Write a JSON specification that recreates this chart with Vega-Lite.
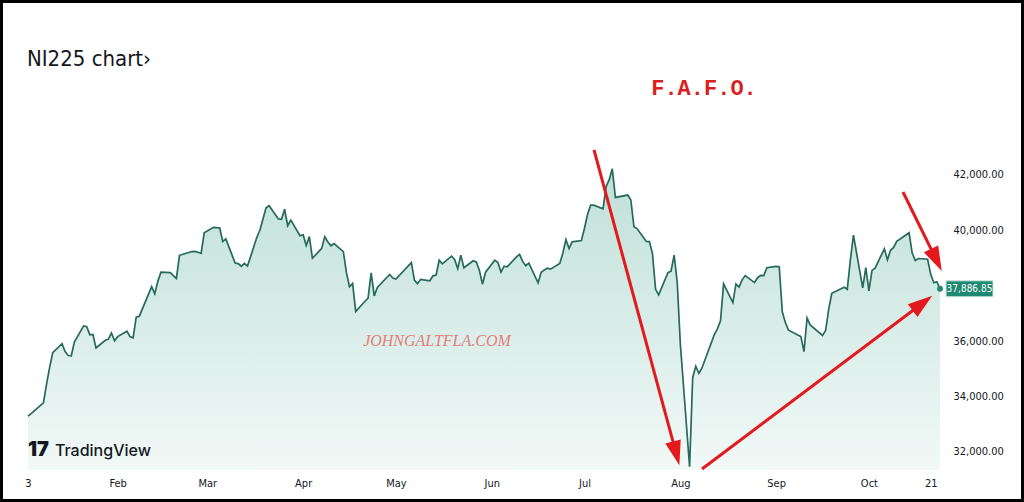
{
  "$schema": "https://vega.github.io/schema/vega-lite/v6.json",
  "width": 1024,
  "height": 502,
  "autosize": "none",
  "padding": 0,
  "background": "white",
  "config": {
    "view": {"stroke": "black", "strokeWidth": 6},
    "axis": {"grid": false, "domain": false, "ticks": false, "title": null, "labelColor": "#131722", "labelFont": "DejaVu Sans Condensed, Roboto", "labelFontSize": 11}
  },
  "datasets": {
    "ni225": [
      {"date": "2024-01-03", "close": 33288}, {"date": "2024-01-04", "close": 33377}, {"date": "2024-01-08", "close": 33763}, {"date": "2024-01-09", "close": 34441}, {"date": "2024-01-10", "close": 35049}, {"date": "2024-01-11", "close": 35577}, {"date": "2024-01-14", "close": 35901}, {"date": "2024-01-15", "close": 35619}, {"date": "2024-01-16", "close": 35477}, {"date": "2024-01-17", "close": 35466}, {"date": "2024-01-18", "close": 35963}, {"date": "2024-01-21", "close": 36546}, {"date": "2024-01-22", "close": 36517}, {"date": "2024-01-23", "close": 36226}, {"date": "2024-01-24", "close": 36236}, {"date": "2024-01-25", "close": 35751}, {"date": "2024-01-28", "close": 36026}, {"date": "2024-01-29", "close": 36066}, {"date": "2024-01-30", "close": 36287}, {"date": "2024-01-31", "close": 36011},
      {"date": "2024-02-01", "close": 36158}, {"date": "2024-02-04", "close": 36354}, {"date": "2024-02-05", "close": 36160}, {"date": "2024-02-06", "close": 36119}, {"date": "2024-02-07", "close": 36863}, {"date": "2024-02-08", "close": 36897}, {"date": "2024-02-12", "close": 37963}, {"date": "2024-02-13", "close": 37703}, {"date": "2024-02-14", "close": 38157}, {"date": "2024-02-15", "close": 38487}, {"date": "2024-02-18", "close": 38470}, {"date": "2024-02-19", "close": 38363}, {"date": "2024-02-20", "close": 38262}, {"date": "2024-02-21", "close": 39098}, {"date": "2024-02-25", "close": 39233}, {"date": "2024-02-26", "close": 39239}, {"date": "2024-02-27", "close": 39208}, {"date": "2024-02-28", "close": 39166}, {"date": "2024-02-29", "close": 39910},
      {"date": "2024-03-03", "close": 40109}, {"date": "2024-03-04", "close": 40097}, {"date": "2024-03-05", "close": 40090}, {"date": "2024-03-06", "close": 39598}, {"date": "2024-03-07", "close": 39688}, {"date": "2024-03-10", "close": 38820}, {"date": "2024-03-11", "close": 38797}, {"date": "2024-03-12", "close": 38695}, {"date": "2024-03-13", "close": 38807}, {"date": "2024-03-14", "close": 38707}, {"date": "2024-03-17", "close": 39740}, {"date": "2024-03-18", "close": 40003}, {"date": "2024-03-20", "close": 40815}, {"date": "2024-03-21", "close": 40888}, {"date": "2024-03-24", "close": 40414}, {"date": "2024-03-25", "close": 40398}, {"date": "2024-03-26", "close": 40762}, {"date": "2024-03-27", "close": 40168}, {"date": "2024-03-28", "close": 40369}, {"date": "2024-03-31", "close": 39803},
      {"date": "2024-04-01", "close": 39838}, {"date": "2024-04-02", "close": 39451}, {"date": "2024-04-03", "close": 39773}, {"date": "2024-04-04", "close": 38992}, {"date": "2024-04-07", "close": 39347}, {"date": "2024-04-08", "close": 39773}, {"date": "2024-04-09", "close": 39581}, {"date": "2024-04-10", "close": 39442}, {"date": "2024-04-11", "close": 39523}, {"date": "2024-04-14", "close": 39232}, {"date": "2024-04-15", "close": 38471}, {"date": "2024-04-16", "close": 37961}, {"date": "2024-04-17", "close": 38079}, {"date": "2024-04-18", "close": 37068}, {"date": "2024-04-21", "close": 37438}, {"date": "2024-04-22", "close": 37552}, {"date": "2024-04-23", "close": 38460}, {"date": "2024-04-24", "close": 37628}, {"date": "2024-04-25", "close": 37934}, {"date": "2024-04-29", "close": 38405}, {"date": "2024-04-30", "close": 38274},
      {"date": "2024-05-01", "close": 38236}, {"date": "2024-05-06", "close": 38835}, {"date": "2024-05-07", "close": 38202}, {"date": "2024-05-08", "close": 38073}, {"date": "2024-05-09", "close": 38229}, {"date": "2024-05-12", "close": 38179}, {"date": "2024-05-13", "close": 38356}, {"date": "2024-05-14", "close": 38385}, {"date": "2024-05-15", "close": 38920}, {"date": "2024-05-16", "close": 38787}, {"date": "2024-05-19", "close": 39069}, {"date": "2024-05-20", "close": 38946}, {"date": "2024-05-21", "close": 38617}, {"date": "2024-05-22", "close": 39103}, {"date": "2024-05-23", "close": 38646}, {"date": "2024-05-26", "close": 38900}, {"date": "2024-05-27", "close": 38855}, {"date": "2024-05-28", "close": 38556}, {"date": "2024-05-29", "close": 38054}, {"date": "2024-05-30", "close": 38487},
      {"date": "2024-06-02", "close": 38923}, {"date": "2024-06-03", "close": 38837}, {"date": "2024-06-04", "close": 38490}, {"date": "2024-06-05", "close": 38703}, {"date": "2024-06-06", "close": 38683}, {"date": "2024-06-09", "close": 39038}, {"date": "2024-06-10", "close": 39134}, {"date": "2024-06-11", "close": 38876}, {"date": "2024-06-12", "close": 38720}, {"date": "2024-06-13", "close": 38814}, {"date": "2024-06-16", "close": 38102}, {"date": "2024-06-17", "close": 38482}, {"date": "2024-06-18", "close": 38570}, {"date": "2024-06-19", "close": 38633}, {"date": "2024-06-20", "close": 38596}, {"date": "2024-06-23", "close": 38804}, {"date": "2024-06-24", "close": 39173}, {"date": "2024-06-25", "close": 39667}, {"date": "2024-06-26", "close": 39341}, {"date": "2024-06-27", "close": 39583}, {"date": "2024-06-30", "close": 39631},
      {"date": "2024-07-01", "close": 40074}, {"date": "2024-07-02", "close": 40580}, {"date": "2024-07-03", "close": 40913}, {"date": "2024-07-04", "close": 40912}, {"date": "2024-07-07", "close": 40780}, {"date": "2024-07-08", "close": 41580}, {"date": "2024-07-09", "close": 41831}, {"date": "2024-07-10", "close": 42224}, {"date": "2024-07-11", "close": 41190}, {"date": "2024-07-15", "close": 41275}, {"date": "2024-07-16", "close": 41097}, {"date": "2024-07-17", "close": 40126}, {"date": "2024-07-18", "close": 40063}, {"date": "2024-07-21", "close": 39599}, {"date": "2024-07-22", "close": 39594}, {"date": "2024-07-23", "close": 39154}, {"date": "2024-07-24", "close": 37869}, {"date": "2024-07-25", "close": 37667}, {"date": "2024-07-28", "close": 38468}, {"date": "2024-07-29", "close": 38525}, {"date": "2024-07-30", "close": 39101}, {"date": "2024-07-31", "close": 38126},
      {"date": "2024-08-01", "close": 35909}, {"date": "2024-08-04", "close": 31458}, {"date": "2024-08-05", "close": 34675}, {"date": "2024-08-06", "close": 35089}, {"date": "2024-08-07", "close": 34831}, {"date": "2024-08-08", "close": 35025}, {"date": "2024-08-12", "close": 36232}, {"date": "2024-08-13", "close": 36442}, {"date": "2024-08-14", "close": 36726}, {"date": "2024-08-15", "close": 38062}, {"date": "2024-08-18", "close": 37388}, {"date": "2024-08-19", "close": 38063}, {"date": "2024-08-20", "close": 37951}, {"date": "2024-08-21", "close": 38211}, {"date": "2024-08-22", "close": 38364}, {"date": "2024-08-25", "close": 38110}, {"date": "2024-08-26", "close": 38288}, {"date": "2024-08-27", "close": 38371}, {"date": "2024-08-28", "close": 38362}, {"date": "2024-08-29", "close": 38647},
      {"date": "2024-09-01", "close": 38700}, {"date": "2024-09-02", "close": 38686}, {"date": "2024-09-03", "close": 37047}, {"date": "2024-09-04", "close": 36657}, {"date": "2024-09-05", "close": 36391}, {"date": "2024-09-08", "close": 36215}, {"date": "2024-09-09", "close": 36159}, {"date": "2024-09-10", "close": 35619}, {"date": "2024-09-11", "close": 36833}, {"date": "2024-09-12", "close": 36581}, {"date": "2024-09-16", "close": 36203}, {"date": "2024-09-17", "close": 36380}, {"date": "2024-09-18", "close": 37155}, {"date": "2024-09-19", "close": 37723}, {"date": "2024-09-23", "close": 37940}, {"date": "2024-09-24", "close": 37870}, {"date": "2024-09-25", "close": 38925}, {"date": "2024-09-26", "close": 39829}, {"date": "2024-09-29", "close": 37919}, {"date": "2024-09-30", "close": 38651},
      {"date": "2024-10-01", "close": 37808}, {"date": "2024-10-02", "close": 38552}, {"date": "2024-10-03", "close": 38635}, {"date": "2024-10-06", "close": 39332}, {"date": "2024-10-07", "close": 38937}, {"date": "2024-10-08", "close": 39277}, {"date": "2024-10-09", "close": 39380}, {"date": "2024-10-10", "close": 39605}, {"date": "2024-10-14", "close": 39910}, {"date": "2024-10-15", "close": 39180}, {"date": "2024-10-16", "close": 38911}, {"date": "2024-10-17", "close": 38981}, {"date": "2024-10-20", "close": 38954}, {"date": "2024-10-21", "close": 38411}, {"date": "2024-10-22", "close": 38104}, {"date": "2024-10-23", "close": 38143}, {"date": "2024-10-24", "close": 37886.85}
    ]
  },
  "layer": [
    {
      "data": {"name": "ni225"},
      "mark": {"type": "area", "color": {"gradient": "linear", "x1": 0, "y1": 0, "x2": 0, "y2": 1, "stops": [{"offset": 0, "color": "#bfe0d8"}, {"offset": 1, "color": "#f2f9f7"}]}},
      "encoding": {
        "x": {"field": "date", "type": "temporal",
          "scale": {"type": "utc", "domain": [{"year": 2023, "month": 12, "date": 24, "hours": 22, "minutes": 38, "utc": true}, {"year": 2024, "month": 11, "date": 20, "hours": 4, "minutes": 5, "utc": true}]},
          "axis": {"orient": "bottom", "offset": -33, "labelPadding": 8, "labelAlign": "center",
            "values": [{"year": 2024, "month": 1, "date": 3, "utc": true}, {"year": 2024, "month": 2, "date": 1, "utc": true}, {"year": 2024, "month": 3, "date": 1, "utc": true}, {"year": 2024, "month": 4, "date": 1, "utc": true}, {"year": 2024, "month": 5, "date": 1, "utc": true}, {"year": 2024, "month": 6, "date": 1, "utc": true}, {"year": 2024, "month": 7, "date": 1, "utc": true}, {"year": 2024, "month": 8, "date": 1, "utc": true}, {"year": 2024, "month": 9, "date": 1, "utc": true}, {"year": 2024, "month": 10, "date": 1, "utc": true}, {"year": 2024, "month": 10, "date": 21, "utc": true}],
            "labelExpr": "utcdate(datum.value) == 1 ? utcFormat(datum.value, '%b') : utcFormat(datum.value, '%-d')"}},
        "y": {"field": "close", "type": "quantitative",
          "scale": {"domain": [30182, 48324], "nice": false, "zero": false},
          "axis": {"orient": "right", "offset": -84, "labelPadding": 13, "labelAlign": "left", "format": ",.2f", "values": [32000, 34000, 36000, 40000, 42000]}},
        "y2": {"datum": 31339}
      }
    },
    {
      "data": {"name": "ni225"},
      "mark": {"type": "line", "color": "#256a5b", "strokeWidth": 1.7},
      "encoding": {
        "x": {"field": "date", "type": "temporal"},
        "y": {"field": "close", "type": "quantitative"}
      }
    },
    {
      "data": {"values": [{"date": "2024-10-24", "close": 37886.85}]},
      "layer": [
        {"mark": {"type": "point", "filled": true, "color": "#1f8a72", "size": 35, "opacity": 1}},
        {"mark": {"type": "rect", "color": "#1f8a72", "stroke": "#cfe9e2", "strokeWidth": 1, "xOffset": 6, "x2Offset": 53, "yOffset": -8, "y2Offset": 8},
          "encoding": {"x2": {"field": "date"}, "y2": {"field": "close"}}},
        {"mark": {"type": "text", "color": "white", "dx": 29.5, "align": "center", "baseline": "middle", "fontSize": 10, "font": "DejaVu Sans Condensed, Roboto"},
          "encoding": {"text": {"field": "close", "type": "quantitative", "format": ",.2f"}}}
      ],
      "encoding": {
        "x": {"field": "date", "type": "temporal"},
        "y": {"field": "close", "type": "quantitative"}
      }
    },
    {
      "data": {"values": [
        {"t1": "2024-07-04T02:00:00Z", "v1": 42904, "t2": "2024-07-30T16:00:00Z", "v2": 31939},
        {"t1": "2024-08-08T00:15:00Z", "v1": 31375, "t2": "2024-10-18T07:30:00Z", "v2": 37367},
        {"t1": "2024-10-12T00:45:00Z", "v1": 41386, "t2": "2024-10-22T20:00:00Z", "v2": 38932}
      ]},
      "mark": {"type": "rule", "color": "#e3191e", "strokeWidth": 3},
      "encoding": {
        "x": {"field": "t1", "type": "temporal"},
        "y": {"field": "v1", "type": "quantitative"},
        "x2": {"field": "t2"},
        "y2": {"field": "v2"}
      }
    },
    {
      "data": {"values": [{}]},
      "mark": {"type": "point", "shape": "M0,-1L0.65,1L-0.65,1Z", "filled": true, "color": "#e3191e", "opacity": 1, "size": 600, "angle": 165},
      "encoding": {
        "x": {"datum": {"year": 2024, "month": 7, "date": 30, "hours": 16, "utc": true}, "type": "temporal"},
        "y": {"datum": 31939, "type": "quantitative"}
      }
    },
    {
      "data": {"values": [{}]},
      "mark": {"type": "point", "shape": "M0,-1L0.65,1L-0.65,1Z", "filled": true, "color": "#e3191e", "opacity": 1, "size": 600, "angle": 53},
      "encoding": {
        "x": {"datum": {"year": 2024, "month": 10, "date": 18, "hours": 7, "minutes": 30, "utc": true}, "type": "temporal"},
        "y": {"datum": 37367, "type": "quantitative"}
      }
    },
    {
      "data": {"values": [{}]},
      "mark": {"type": "point", "shape": "M0,-1L0.65,1L-0.65,1Z", "filled": true, "color": "#e3191e", "opacity": 1, "size": 600, "angle": 154},
      "encoding": {
        "x": {"datum": {"year": 2024, "month": 10, "date": 22, "hours": 20, "utc": true}, "type": "temporal"},
        "y": {"datum": 38932, "type": "quantitative"}
      }
    },
    {
      "data": {"values": [{}]},
      "mark": {"type": "text", "text": "NI225 chart›", "align": "left", "baseline": "alphabetic", "fontSize": 22, "font": "DejaVu Sans Condensed, Roboto", "color": "#131722"},
      "encoding": {
        "x": {"datum": {"year": 2024, "month": 1, "date": 2, "hours": 16, "utc": true}, "type": "temporal"},
        "y": {"datum": 45939, "type": "quantitative"}
      }
    },
    {
      "data": {"values": [{}]},
      "mark": {"type": "text", "text": "F.A.F.O.", "align": "center", "baseline": "alphabetic", "fontSize": 22, "fontWeight": "bold", "font": "Liberation Mono", "color": "#d91f1f"},
      "encoding": {
        "x": {"datum": {"year": 2024, "month": 8, "date": 8, "hours": 16, "utc": true}, "type": "temporal"},
        "y": {"datum": 44891, "type": "quantitative"}
      }
    },
    {
      "data": {"values": [{}]},
      "mark": {"type": "text", "text": "JOHNGALTFLA.COM", "align": "center", "baseline": "alphabetic", "fontSize": 16, "fontStyle": "italic", "font": "Liberation Serif", "color": "#e47f7b"},
      "encoding": {
        "x": {"datum": {"year": 2024, "month": 5, "date": 14, "hours": 7, "utc": true}, "type": "temporal"},
        "y": {"datum": 35820, "type": "quantitative"}
      }
    },
    {
      "data": {"values": [{}]},
      "mark": {"type": "text", "text": "17", "align": "left", "baseline": "alphabetic", "fontSize": 20, "fontWeight": 900, "font": "Inter", "color": "#131722"},
      "encoding": {
        "x": {"datum": {"year": 2024, "month": 1, "date": 3, "utc": true}, "type": "temporal"},
        "y": {"datum": 31845, "type": "quantitative"}
      }
    },
    {
      "data": {"values": [{}]},
      "mark": {"type": "text", "text": "TradingView", "align": "left", "baseline": "alphabetic", "fontSize": 16, "fontWeight": 500, "font": "Inter", "color": "#131722"},
      "encoding": {
        "x": {"datum": {"year": 2024, "month": 1, "date": 11, "hours": 17, "utc": true}, "type": "temporal"},
        "y": {"datum": 31845, "type": "quantitative"}
      }
    }
  ]
}
